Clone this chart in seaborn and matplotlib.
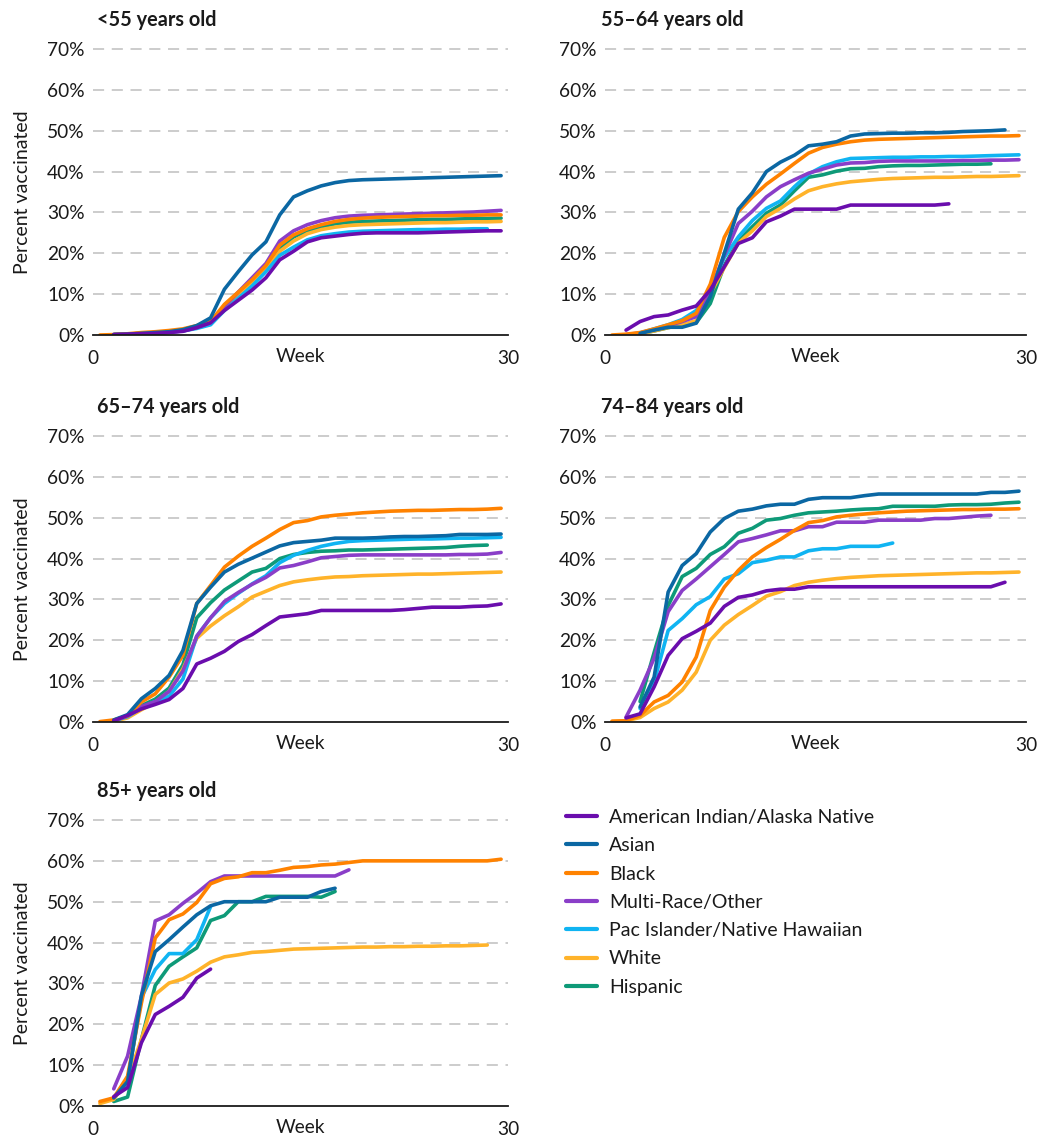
import numpy as np
import pandas as pd
import matplotlib
matplotlib.use("Agg")
import matplotlib.pyplot as plt
from matplotlib.ticker import MultipleLocator, FixedLocator
import seaborn as sns

# ---------------- data ----------------
GROUPS = ["American Indian/Alaska Native", "Asian", "Black", "Multi-Race/Other",
          "Pac Islander/Native Hawaiian", "White", "Hispanic"]
COLORS = ["#6a0dad", "#0b67a3", "#ff8200", "#8a3ec8", "#10b4f2", "#ffb32a", "#0e9a78"]
PANEL_TITLES = ["<55 years old", "55\u201364 years old", "65\u201374 years old",
                "74\u201384 years old", "85+ years old"]
Y_TICKS = [0, 10, 20, 30, 40, 50, 60, 70]
X_TICK_LABELS = ["0", "30"]

# first week (mid-week position) of each series, per panel, in GROUPS order
START_U55 = [1.5, 1.5, 0.5, 1.5, 1.5, 1.5, 1.5]
START_5564 = [1.5, 2.5, 0.5, 1.5, 2.5, 2.5, 2.5]
START_6574 = [1.5, 1.5, 0.5, 1.5, 1.5, 1.5, 1.5]
START_7484 = [1.5, 2.5, 0.5, 1.5, 2.5, 0.5, 2.5]
START_85 = [1.5, 1.5, 0.5, 1.5, 1.5, 0.5, 1.5]

# <55 years old
u55_aian = [0.1, 0.2, 0.3, 0.4, 0.6, 0.9, 1.8, 3.0, 6.0, 8.5, 11.0, 14.0, 18.4, 20.5, 22.8, 23.8, 24.2,
            24.6, 24.9, 25.0, 25.0, 25.0, 25.0, 25.1, 25.2, 25.3, 25.4, 25.5, 25.5]
u55_asian = [0.1, 0.2, 0.4, 0.6, 0.8, 1.3, 2.3, 4.2, 11.2, 15.5, 19.6, 22.8, 29.4, 33.8, 35.3, 36.5, 37.3,
             37.8, 38.0, 38.1, 38.2, 38.3, 38.4, 38.5, 38.6, 38.7, 38.8, 38.9, 39.0]
u55_black = [0.0, 0.1, 0.3, 0.6, 0.8, 1.1, 1.5, 2.3, 3.3, 7.5, 10.5, 13.5, 17.0, 22.0, 24.5, 26.0, 27.0,
             27.8, 28.3, 28.6, 28.8, 28.9, 29.0, 29.1, 29.2, 29.2, 29.3, 29.3, 29.4, 29.4]
u55_multi = [0.1, 0.2, 0.3, 0.5, 0.7, 1.0, 1.8, 3.0, 7.0, 10.5, 14.0, 17.5, 23.0, 25.5, 27.0, 28.0, 28.7,
             29.1, 29.3, 29.4, 29.5, 29.6, 29.7, 29.8, 29.9, 30.0, 30.1, 30.3, 30.5]
u55_pi = [0.1, 0.2, 0.3, 0.5, 0.7, 1.0, 1.6, 2.5, 6.0, 9.0, 12.0, 15.5, 19.5, 21.5, 23.3, 24.3, 24.8,
          25.2, 25.4, 25.5, 25.6, 25.7, 25.8, 25.8, 25.9, 25.9, 26.0, 26.0]
u55_white = [0.1, 0.2, 0.4, 0.6, 0.8, 1.1, 2.0, 3.0, 6.8, 9.8, 12.8, 16.0, 20.5, 23.0, 24.8, 25.8, 26.4,
             26.8, 27.0, 27.1, 27.2, 27.3, 27.4, 27.5, 27.5, 27.6, 27.7, 27.7, 27.8]
u55_hisp = [0.1, 0.2, 0.4, 0.6, 0.8, 1.1, 2.0, 3.2, 7.0, 10.0, 13.0, 16.5, 21.0, 24.0, 25.5, 26.5, 27.2,
            27.6, 27.8, 27.9, 28.0, 28.1, 28.2, 28.3, 28.3, 28.4, 28.5, 28.5, 28.6]

# 55-64 years old
a5564_aian = [1.2, 3.3, 4.5, 4.9, 6.1, 7.1, 11.0, 16.7, 22.4, 23.8, 27.7, 29.1, 30.8, 30.8, 30.8, 30.8,
              31.8, 31.8, 31.8, 31.8, 31.8, 31.8, 31.8, 32.1]
a5564_asian = [0.4, 1.2, 1.9, 1.9, 2.9, 9.4, 20.0, 30.8, 34.8, 40.0, 42.3, 44.0, 46.3, 46.7, 47.3, 48.7,
               49.2, 49.3, 49.4, 49.4, 49.5, 49.5, 49.6, 49.8, 49.9, 50.0, 50.2]
a5564_black = [0.0, 0.2, 0.6, 1.5, 2.5, 3.5, 5.3, 12.4, 23.9, 30.2, 33.8, 36.9, 39.4, 42.0, 44.5, 45.9,
               46.7, 47.3, 47.7, 47.9, 48.0, 48.1, 48.2, 48.3, 48.4, 48.5, 48.6, 48.7, 48.7, 48.8]
a5564_multi = [0.1, 0.5, 1.3, 2.3, 3.3, 4.5, 11.0, 19.5, 27.3, 30.3, 33.8, 36.3, 38.0, 39.6, 40.6, 41.6,
               42.1, 42.2, 42.5, 42.6, 42.6, 42.6, 42.6, 42.6, 42.7, 42.7, 42.8, 42.8, 42.9]
a5564_pi = [0.5, 1.5, 2.5, 3.8, 6.0, 11.0, 19.0, 24.0, 28.0, 31.0, 32.8, 36.3, 39.4, 41.2, 42.4, 43.2,
            43.3, 43.4, 43.5, 43.5, 43.6, 43.6, 43.7, 43.7, 43.8, 43.9, 44.0, 44.1]
a5564_white = [0.3, 1.0, 1.8, 2.5, 3.5, 10.0, 16.5, 22.5, 25.5, 29.0, 31.0, 33.3, 35.3, 36.3, 37.0, 37.5,
               37.8, 38.1, 38.3, 38.4, 38.5, 38.6, 38.6, 38.7, 38.8, 38.8, 38.9, 39.0]
a5564_hisp = [0.3, 1.0, 1.8, 2.5, 3.0, 7.7, 17.0, 23.0, 26.5, 29.8, 31.8, 35.3, 38.6, 39.2, 40.1, 40.7,
              40.8, 41.2, 41.4, 41.5, 41.5, 41.6, 41.7, 41.8, 41.8, 41.9]

# 65-74 years old
a6574_aian = [0.3, 1.6, 3.2, 4.3, 5.5, 8.2, 14.2, 15.6, 17.3, 19.7, 21.4, 23.6, 25.7, 26.1, 26.5, 27.3,
              27.3, 27.3, 27.3, 27.3, 27.3, 27.5, 27.8, 28.1, 28.1, 28.1, 28.3, 28.4, 28.9]
a6574_asian = [0.5, 1.8, 5.7, 8.2, 11.4, 17.5, 29.0, 33.0, 36.7, 38.6, 40.1, 41.6, 43.1, 43.9, 44.2, 44.5,
               45.0, 45.0, 45.0, 45.1, 45.3, 45.4, 45.4, 45.5, 45.6, 45.9, 45.9, 45.9, 46.0]
a6574_black = [0.1, 0.5, 1.5, 4.9, 6.9, 11.0, 16.3, 29.0, 33.4, 37.9, 40.6, 43.0, 45.0, 47.1, 48.8, 49.3,
               50.2, 50.6, 50.9, 51.2, 51.4, 51.6, 51.7, 51.8, 51.8, 51.9, 52.0, 52.0, 52.1, 52.3]
a6574_multi = [0.3, 1.5, 3.8, 5.0, 7.5, 12.5, 21.0, 25.5, 29.5, 31.7, 33.7, 35.4, 37.7, 38.3, 39.2, 40.2,
               40.5, 40.8, 40.9, 40.9, 40.9, 40.9, 40.9, 40.9, 40.9, 41.0, 41.0, 41.1, 41.5]
a6574_pi = [0.3, 1.3, 3.5, 5.0, 6.3, 10.5, 21.0, 25.5, 29.0, 31.5, 33.8, 35.8, 39.0, 40.8, 42.0, 43.0,
            43.7, 44.2, 44.4, 44.5, 44.6, 44.7, 44.8, 44.8, 44.9, 45.0, 45.0, 45.1, 45.2]
a6574_white = [0.2, 1.0, 3.0, 4.8, 7.5, 13.0, 20.5, 23.5, 26.0, 28.2, 30.6, 32.0, 33.4, 34.3, 34.8, 35.2,
               35.5, 35.6, 35.8, 35.9, 36.0, 36.1, 36.2, 36.2, 36.3, 36.4, 36.5, 36.6, 36.7]
a6574_hisp = [0.4, 1.6, 4.0, 5.6, 8.3, 14.0, 25.5, 29.2, 32.3, 34.5, 36.7, 37.6, 40.0, 41.0, 41.5, 41.8,
              41.9, 42.1, 42.1, 42.2, 42.3, 42.4, 42.5, 42.6, 42.7, 43.0, 43.2, 43.3]

# 74-84 years old
a7484_aian = [1.0, 2.0, 8.6, 16.3, 20.4, 22.2, 24.2, 28.3, 30.5, 31.1, 32.1, 32.5, 32.5, 33.1, 33.1, 33.1,
              33.1, 33.1, 33.1, 33.1, 33.1, 33.1, 33.1, 33.1, 33.1, 33.1, 33.1, 34.2]
a7484_asian = [3.7, 11.0, 31.8, 38.3, 41.2, 46.5, 49.8, 51.6, 52.1, 52.9, 53.3, 53.3, 54.5, 54.9, 54.9,
               54.9, 55.4, 55.8, 55.8, 55.8, 55.8, 55.8, 55.8, 55.8, 55.8, 56.2, 56.2, 56.5]
a7484_black = [0.2, 0.3, 1.6, 4.9, 6.5, 9.8, 15.9, 27.3, 33.0, 37.1, 40.4, 42.7, 44.7, 46.9, 48.8, 49.3,
               50.2, 50.6, 50.9, 51.2, 51.4, 51.6, 51.7, 51.8, 51.9, 52.0, 52.0, 52.1, 52.1, 52.2]
a7484_multi = [1.2, 7.8, 15.6, 27.0, 32.2, 35.0, 38.0, 41.0, 44.1, 44.9, 45.8, 46.8, 46.8, 47.8, 47.8,
               48.9, 48.9, 48.9, 49.4, 49.4, 49.4, 49.4, 49.8, 49.8, 50.1, 50.4, 50.6]
a7484_pi = [3.3, 9.8, 22.4, 25.3, 28.7, 30.7, 35.0, 36.3, 39.0, 39.6, 40.4, 40.4, 41.9, 42.4, 42.4, 43.0,
            43.0, 43.0, 43.8]
a7484_white = [0.1, 0.3, 1.1, 3.3, 4.9, 7.8, 12.2, 20.0, 23.7, 26.3, 28.5, 30.8, 31.9, 33.4, 34.2, 34.7,
               35.1, 35.4, 35.6, 35.8, 35.9, 36.0, 36.1, 36.2, 36.3, 36.4, 36.5, 36.5, 36.6, 36.7]
a7484_hisp = [5.0, 17.0, 28.5, 35.6, 37.6, 41.0, 42.9, 46.2, 47.4, 49.4, 49.8, 50.6, 51.2, 51.4, 51.6,
              51.9, 52.1, 52.2, 52.8, 52.8, 52.8, 52.8, 53.1, 53.2, 53.2, 53.3, 53.6, 53.8]

# 85+ years old
a85_aian = [2.3, 4.5, 15.5, 22.4, 24.4, 26.6, 31.3, 33.5]
a85_asian = [2.0, 6.0, 27.0, 37.8, 40.7, 43.8, 46.8, 49.0, 50.0, 50.0, 50.0, 50.0, 51.1, 51.1, 51.1,
             52.5, 53.3]
a85_black = [1.1, 2.0, 7.3, 25.2, 41.1, 45.6, 47.0, 49.8, 54.4, 55.7, 56.1, 57.1, 57.1, 57.7, 58.4, 58.6,
             59.0, 59.2, 59.6, 60.0, 60.0, 60.0, 60.0, 60.0, 60.0, 60.0, 60.0, 60.0, 60.0, 60.4]
a85_multi = [4.2, 12.2, 26.9, 45.3, 46.8, 49.6, 52.1, 54.9, 56.3, 56.3, 56.3, 56.3, 56.3, 56.3, 56.3,
             56.3, 56.3, 57.8]
a85_pi = [2.0, 6.0, 26.5, 33.4, 37.3, 37.3, 40.7, 48.8]
a85_white = [0.6, 1.6, 6.5, 16.3, 27.3, 30.1, 31.1, 33.0, 35.2, 36.5, 37.0, 37.6, 37.8, 38.1, 38.4, 38.5,
             38.6, 38.7, 38.8, 38.9, 38.9, 39.0, 39.0, 39.1, 39.1, 39.2, 39.2, 39.3, 39.4]
a85_hisp = [1.1, 2.2, 16.3, 29.5, 34.2, 36.5, 38.7, 45.4, 46.6, 50.0, 50.0, 51.3, 51.3, 51.3, 51.3, 51.1,
            52.5]

PANELS = [
    (START_U55, [u55_aian, u55_asian, u55_black, u55_multi, u55_pi, u55_white, u55_hisp]),
    (START_5564, [a5564_aian, a5564_asian, a5564_black, a5564_multi, a5564_pi, a5564_white, a5564_hisp]),
    (START_6574, [a6574_aian, a6574_asian, a6574_black, a6574_multi, a6574_pi, a6574_white, a6574_hisp]),
    (START_7484, [a7484_aian, a7484_asian, a7484_black, a7484_multi, a7484_pi, a7484_white, a7484_hisp]),
    (START_85, [a85_aian, a85_asian, a85_black, a85_multi, a85_pi, a85_white, a85_hisp]),
]

# ---------------- style ----------------
sns.set_style("white")
plt.rcParams["font.family"] = ["Lato", "DejaVu Sans"]
plt.rcParams["lines.scale_dashes"] = False
TEXT = "#1a1a1a"
palette = dict(zip(GROUPS, COLORS))
draw_order = ["Hispanic", "White", "Pac Islander/Native Hawaiian", "Multi-Race/Other",
              "Black", "Asian", "American Indian/Alaska Native"]

W, H = 1041, 1137
fig = plt.figure(figsize=(W / 100, H / 100), dpi=100)

# axes rectangles in pixels: (left, top of 70%, right, bottom 0%)
rects = [(93, 49, 508, 335), (605, 49, 1026, 335),
         (93, 436, 508, 722), (605, 436, 1026, 722),
         (93, 820, 508, 1106)]

handles_map = {}
for i, ((starts, series), title, (l, t, r, b)) in enumerate(zip(PANELS, PANEL_TITLES, rects)):
    ax = fig.add_axes([l / W, 1 - b / H, (r - l) / W, (b - t) / H])
    rows = []
    for g, s0, vals in zip(GROUPS, starts, series):
        for k, v in enumerate(vals):
            rows.append((g, s0 + k, v))
    df = pd.DataFrame(rows, columns=["group", "week", "pct"])
    sns.lineplot(data=df, x="week", y="pct", hue="group", hue_order=draw_order,
                 palette=palette, linewidth=2.6, estimator=None, sort=True, ax=ax,
                 legend=(i == 4))
    for ln in ax.get_lines():
        ln.set_solid_capstyle("round")
        ln.set_solid_joinstyle("round")
    if i == 4:
        h, lab = ax.get_legend_handles_labels()
        handles_map = dict(zip(lab, h))
        ax.get_legend().remove()

    ax.set_xlim(0, 30)
    ax.set_ylim(0, 70)
    ax.set_yticks(Y_TICKS)
    ax.set_yticklabels([f"{v}%" for v in Y_TICKS])
    ax.xaxis.set_major_locator(FixedLocator([0, 30]))
    ax.set_xticklabels(X_TICK_LABELS)
    ax.xaxis.set_minor_locator(MultipleLocator(1))
    ax.tick_params(axis="x", which="both", direction="out", length=4.6, width=1.1,
                   color="#1a1a1a", labelsize=13.8, labelcolor=TEXT, pad=6)
    ax.tick_params(axis="y", length=0, labelsize=13.8, labelcolor=TEXT, pad=6)
    for sp in ["left", "right", "top"]:
        ax.spines[sp].set_visible(False)
    ax.spines["bottom"].set_color("#1a1a1a")
    ax.spines["bottom"].set_linewidth(1.3)
    ax.set_axisbelow(True)
    ax.yaxis.grid(True, linestyle=(0, (8, 5.5)), color="#c8c8c8", linewidth=1.3)
    ax.xaxis.grid(False)
    for gl, yv in zip(ax.yaxis.get_gridlines(), Y_TICKS):
        if yv == 0:
            gl.set_visible(False)
        gl.set_clip_on(False)

    ax.set_xlabel("Week", fontsize=13.8, color=TEXT)
    ax.xaxis.set_label_coords(0.5, -0.046)
    ax.xaxis.label.set_va("top")
    if l < 300:
        ax.set_ylabel("Percent vaccinated", fontsize=14, color=TEXT)
        ax.yaxis.set_label_coords(-62 / (r - l), 0.5)
    else:
        ax.set_ylabel("")

    ax.annotate(title, xy=(0, 1), xycoords="axes fraction",
                xytext=(-3 if l > 300 else 3, 21), textcoords="offset points",
                ha="left", va="center", fontsize=14.3, fontweight="bold", color=TEXT)

leg_handles = [handles_map[g] for g in GROUPS]
for hd in leg_handles:
    hd.set_linewidth(3)
leg = fig.legend(leg_handles, GROUPS, loc="upper left",
                 bbox_to_anchor=(566 / W, 1 - 809 / H), frameon=False,
                 fontsize=14, handlelength=1.6, handletextpad=0.6,
                 labelspacing=0.58, borderpad=0, borderaxespad=0)
for tx in leg.get_texts():
    tx.set_color(TEXT)

fig.savefig("out.png", dpi=100)
